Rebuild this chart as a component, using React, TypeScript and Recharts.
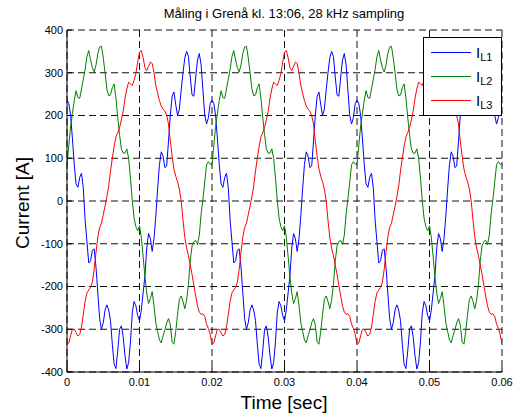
import React from 'react';
import { LineChart, Line, XAxis, YAxis, CartesianGrid, Legend, Customized } from 'recharts';

// every 0.25 ms (three periods of 50 Hz)
const SAMPLE_STEP = 0.00025;
const xTicks = [0, 0.01, 0.02, 0.03, 0.04, 0.05, 0.06];
const yTicks = [-400, -300, -200, -100, 0, 100, 200, 300, 400];
const seriesKeys = ['L1', 'L2', 'L3'];
const seriesColors = ['#0000ff', '#008000', '#ff0000'];

const iL1 = [
  236, 228, 200, 145, 85, 40, 32, 55, 65, 30,
  -45, -95, -145, -140, -115, -112, -155, -215, -275, -300,
  -285, -255, -243, -255, -280, -335, -382, -392, -350, -300,
  -292, -318, -362, -393, -378, -330, -262, -235, -245, -268,
  -280, -255, -215, -175, -110, -76, -88, -118, -88, -35,
  28, 85, 115, 105, 78, 82, 140, 200, 245, 255,
  225, 200, 215, 260, 300, 335, 350, 338, 290, 248,
  245, 290, 330, 345, 318, 258, 200, 180, 195, 228,
  236, 228, 200, 145, 85, 40, 32, 55, 65, 30,
  -45, -95, -145, -140, -115, -112, -155, -215, -275, -300,
  -285, -255, -243, -255, -280, -335, -382, -392, -350, -300,
  -292, -318, -362, -393, -378, -330, -262, -235, -245, -268,
  -280, -255, -215, -175, -110, -76, -88, -118, -88, -35,
  28, 85, 115, 105, 78, 82, 140, 200, 245, 255,
  225, 200, 215, 260, 300, 335, 350, 338, 290, 248,
  245, 290, 330, 345, 318, 258, 200, 180, 195, 228,
  236, 228, 200, 145, 85, 40, 32, 55, 65, 30,
  -45, -95, -145, -140, -115, -112, -155, -215, -275, -300,
  -285, -255, -243, -255, -280, -335, -382, -392, -350, -300,
  -292, -318, -362, -393, -378, -330, -262, -235, -245, -268,
  -280, -255, -215, -175, -110, -76, -88, -118, -88, -35,
  28, 85, 115, 105, 78, 82, 140, 200, 245, 255,
  225, 200, 215, 260, 300, 335, 350, 338, 290, 248,
  245, 290, 330, 345, 318, 258, 200, 180, 195, 228,
  236,
];

const iL2 = [
  85, 130, 175, 205, 235, 258, 242, 240, 262, 285,
  308, 338, 352, 330, 312, 302, 318, 345, 360, 362,
  335, 300, 262, 246, 248, 265, 274, 240, 195, 155,
  122, 112, 112, 122, 100, 55, 2, -40, -60, -70,
  -58, -85, -130, -178, -215, -240, -228, -212, -245, -285,
  -305, -325, -332, -315, -302, -285, -275, -290, -330, -335,
  -305, -265, -230, -222, -235, -252, -232, -195, -140, -105,
  -95, -92, -102, -80, -30, 5, 45, 85, 92, 86,
  85, 130, 175, 205, 235, 258, 242, 240, 262, 285,
  308, 338, 352, 330, 312, 302, 318, 345, 360, 362,
  335, 300, 262, 246, 248, 265, 274, 240, 195, 155,
  122, 112, 112, 122, 100, 55, 2, -40, -60, -70,
  -58, -85, -130, -178, -215, -240, -228, -212, -245, -285,
  -305, -325, -332, -315, -302, -285, -275, -290, -330, -335,
  -305, -265, -230, -222, -235, -252, -232, -195, -140, -105,
  -95, -92, -102, -80, -30, 5, 45, 85, 92, 86,
  85, 130, 175, 205, 235, 258, 242, 240, 262, 285,
  308, 338, 352, 330, 312, 302, 318, 345, 360, 362,
  335, 300, 262, 246, 248, 265, 274, 240, 195, 155,
  122, 112, 112, 122, 100, 55, 2, -40, -60, -70,
  -58, -85, -130, -178, -215, -240, -228, -212, -245, -285,
  -305, -325, -332, -315, -302, -285, -275, -290, -330, -335,
  -305, -265, -230, -222, -235, -252, -232, -195, -140, -105,
  -95, -92, -102, -80, -30, 5, 45, 85, 92, 86,
  85,
];

const iL3 = [
  -335, -332, -315, -300, -300, -308, -316, -312, -295, -265,
  -235, -215, -208, -202, -190, -160, -120, -85, -62, -52,
  -32, -12, 10, 35, 70, 100, 128, 150, 160, 172,
  190, 210, 240, 262, 278, 274, 270, 282, 298, 325,
  348, 352, 335, 312, 305, 315, 325, 322, 300, 270,
  252, 235, 222, 215, 210, 200, 180, 140, 105, 75,
  58, 45, 28, 0, -45, -85, -110, -128, -150, -172,
  -198, -222, -245, -260, -265, -264, -270, -288, -298, -312,
  -335, -332, -315, -300, -300, -308, -316, -312, -295, -265,
  -235, -215, -208, -202, -190, -160, -120, -85, -62, -52,
  -32, -12, 10, 35, 70, 100, 128, 150, 160, 172,
  190, 210, 240, 262, 278, 274, 270, 282, 298, 325,
  348, 352, 335, 312, 305, 315, 325, 322, 300, 270,
  252, 235, 222, 215, 210, 200, 180, 140, 105, 75,
  58, 45, 28, 0, -45, -85, -110, -128, -150, -172,
  -198, -222, -245, -260, -265, -264, -270, -288, -298, -312,
  -335, -332, -315, -300, -300, -308, -316, -312, -295, -265,
  -235, -215, -208, -202, -190, -160, -120, -85, -62, -52,
  -32, -12, 10, 35, 70, 100, 128, 150, 160, 172,
  190, 210, 240, 262, 278, 274, 270, 282, 298, 325,
  348, 352, 335, 312, 305, 315, 325, 322, 300, 270,
  252, 235, 222, 215, 210, 200, 180, 140, 105, 75,
  58, 45, 28, 0, -45, -85, -110, -128, -150, -172,
  -198, -222, -245, -260, -265, -264, -270, -288, -298, -312,
  -335,
];

const data = iL1.map((v, i) => ({
  t: +(i * SAMPLE_STEP).toFixed(5),
  L1: v,
  L2: iL2[i],
  L3: iL3[i],
}));

const FONT = '"Liberation Sans", Arial, Helvetica, sans-serif';

function MatlabLegend() {
  return (
    <svg width={80} height={80} style={{ display: 'block' }}>
      <rect x={0.5} y={0.5} width={78} height={78} fill="#fff" stroke="#000" />
      {seriesKeys.map((key, i) => {
        const y = 15.5 + i * 24;
        return (
          <g key={key}>
            <line x1={8} x2={48} y1={y} y2={y} stroke={seriesColors[i]} />
            <text x={53} y={y + 5} fontSize={15} fontFamily={FONT} fill="#000">
              I<tspan fontSize={11} dy={3}>{key}</tspan>
            </text>
          </g>
        );
      })}
    </svg>
  );
}

function Labels() {
  return (
    <g fontFamily={FONT} fill="#000">
      <text x={284} y={18} fontSize={13} textAnchor="middle">
        Måling i Grenå kl. 13:06, 28 kHz sampling
      </text>
      <text x={284} y={409} fontSize={19} textAnchor="middle">
        Time [sec]
      </text>
      <text x={29} y={203} fontSize={19} textAnchor="middle" transform="rotate(-90 29 203)">
        Current [A]
      </text>
    </g>
  );
}

export default function App() {
  const tickStyle = { fontSize: 11, fill: '#000', fontFamily: FONT };
  return (
    <div style={{ position: 'absolute', left: 0, top: 0, width: 514, height: 415, background: '#fff' }}>
      <LineChart width={514} height={415} data={data} margin={{ top: 30, right: 12, bottom: 0, left: 0 }}>
        <CartesianGrid stroke="#111" strokeDasharray="7 4" />
        <XAxis
          dataKey="t"
          type="number"
          domain={[0, 0.06]}
          ticks={xTicks}
          interval={0}
          allowDataOverflow
          height={43}
          tickSize={-5}
          tickMargin={11}
          tick={tickStyle}
          tickFormatter={(v: number) => (v === 0 ? '0' : v.toFixed(2))}
          stroke="#000"
        />
        <XAxis
          xAxisId="top"
          orientation="top"
          dataKey="t"
          type="number"
          domain={[0, 0.06]}
          ticks={xTicks}
          interval={0}
          allowDataOverflow
          height={0}
          tickSize={-5}
          tick={false}
          stroke="#000"
        />
        <YAxis
          type="number"
          domain={[-400, 400]}
          ticks={yTicks}
          interval={0}
          allowDataOverflow
          width={67}
          tickSize={-5}
          tickMargin={9}
          tick={tickStyle}
          stroke="#000"
        />
        <YAxis
          yAxisId="right"
          orientation="right"
          type="number"
          domain={[-400, 400]}
          ticks={yTicks}
          interval={0}
          allowDataOverflow
          width={0}
          tickSize={-5}
          tick={false}
          stroke="#000"
        />
        {seriesKeys.map((key, i) => (
          <Line
            key={key}
            dataKey={key}
            type="linear"
            stroke={seriesColors[i]}
            strokeWidth={1}
            dot={false}
            activeDot={false}
            isAnimationActive={false}
          />
        ))}
        <Legend
          layout="vertical"
          align="center"
          verticalAlign="middle"
          wrapperStyle={{ left: 423, top: 37, width: 80, height: 80 }}
          content={() => <MatlabLegend />}
        />
        <Customized component={Labels} />
      </LineChart>
    </div>
  );
}
